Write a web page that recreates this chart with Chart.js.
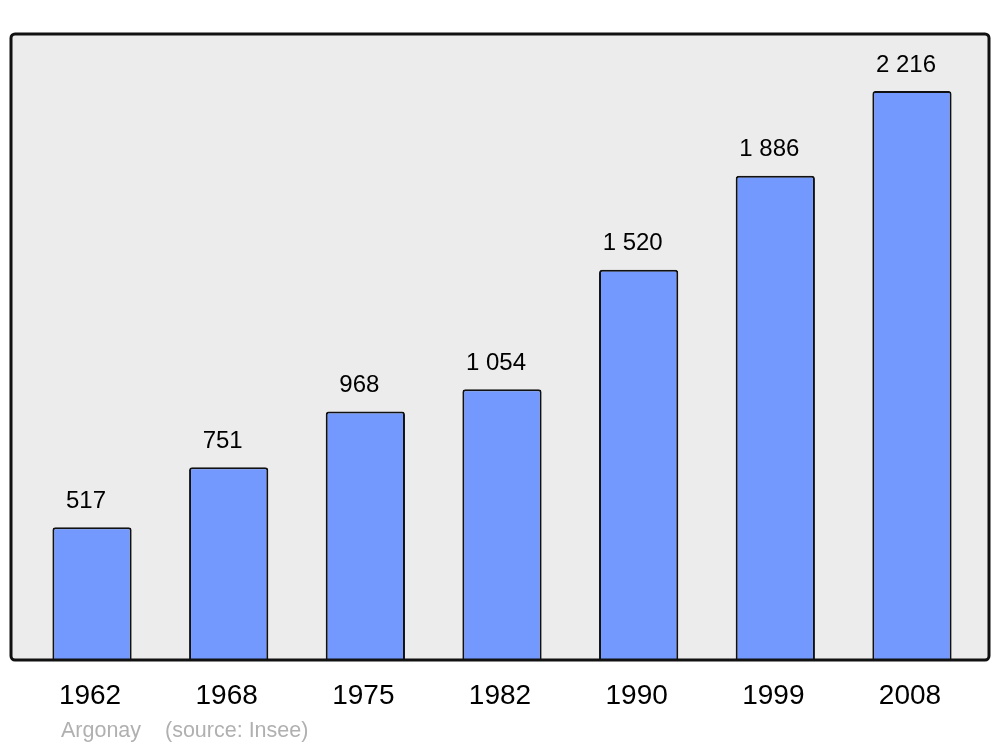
<!DOCTYPE html>
<html>
<head>
<meta charset="utf-8">
<script src="https://cdn.jsdelivr.net/npm/chart.js@4/dist/chart.umd.min.js"></script>
<style>
  html, body { margin: 0; padding: 0; background: #ffffff; }
  #wrap { width: 1000px; height: 747px; position: relative; }
</style>
</head>
<body>
<div id="wrap"><canvas id="c" width="1000" height="747"></canvas></div>
<script>
const years = ["1962", "1968", "1975", "1982", "1990", "1999", "2008"];
const population = [517, 751, 968, 1054, 1520, 1886, 2216];
const valueLabels = ["517", "751", "968", "1 054", "1 520", "1 886", "2 216"];
const footerName = "Argonay";
const footerSource = "(source: Insee)";

const FONT = "'Liberation Sans', Arial, sans-serif";

const framePlugin = {
  id: 'frame',
  beforeDraw(chart) {
    const ctx = chart.ctx;
    ctx.save();
    ctx.fillStyle = '#ffffff';
    ctx.fillRect(0, 0, chart.width, chart.height);
    ctx.beginPath();
    ctx.roundRect(11, 34, 978, 626, 4);
    ctx.fillStyle = '#ececec';
    ctx.fill();
    ctx.restore();
  },
  afterDatasetsDraw(chart) {
    const ctx = chart.ctx;
    const meta = chart.getDatasetMeta(0);
    const xScale = chart.scales.x;
    ctx.save();
    // frame outline
    ctx.beginPath();
    ctx.roundRect(11, 34, 978, 626, 4);
    ctx.lineWidth = 3;
    ctx.strokeStyle = '#111111';
    ctx.stroke();
    // value labels
    ctx.fillStyle = '#000000';
    ctx.font = '24px ' + FONT;
    ctx.textAlign = 'center';
    ctx.textBaseline = 'middle';
    meta.data.forEach((bar, i) => {
      ctx.fillText(valueLabels[i], bar.x - 6, bar.y - 26);
    });
    // category labels
    ctx.font = '28px ' + FONT;
    years.forEach((y, i) => {
      ctx.fillText(y, xScale.getPixelForValue(i) - 2, 696);
    });
    // footer
    ctx.fillStyle = '#b0b0b0';
    ctx.font = '21.5px ' + FONT;
    ctx.textAlign = 'left';
    ctx.fillText(footerName, 61, 731);
    ctx.fillText(footerSource, 165, 731);
    ctx.restore();
  }
};

new Chart(document.getElementById('c'), {
  type: 'bar',
  data: {
    labels: years,
    datasets: [{
      data: population,
      backgroundColor: '#7399ff',
      borderColor: '#111111',
      borderWidth: 2,
      borderSkipped: 'bottom',
      borderRadius: { topLeft: 3, topRight: 3, bottomLeft: 0, bottomRight: 0 },
      categoryPercentage: 1,
      barPercentage: 0.58
    }]
  },
  options: {
    responsive: false,
    animation: false,
    devicePixelRatio: 1,
    layout: { padding: { left: 23.7, right: 19.7, top: 34, bottom: 87 } },
    plugins: { legend: { display: false }, tooltip: { enabled: false } },
    scales: {
      x: { display: false },
      y: { display: false, min: 0, max: 2437.6 }
    }
  },
  plugins: [framePlugin]
});
</script>
</body>
</html>
